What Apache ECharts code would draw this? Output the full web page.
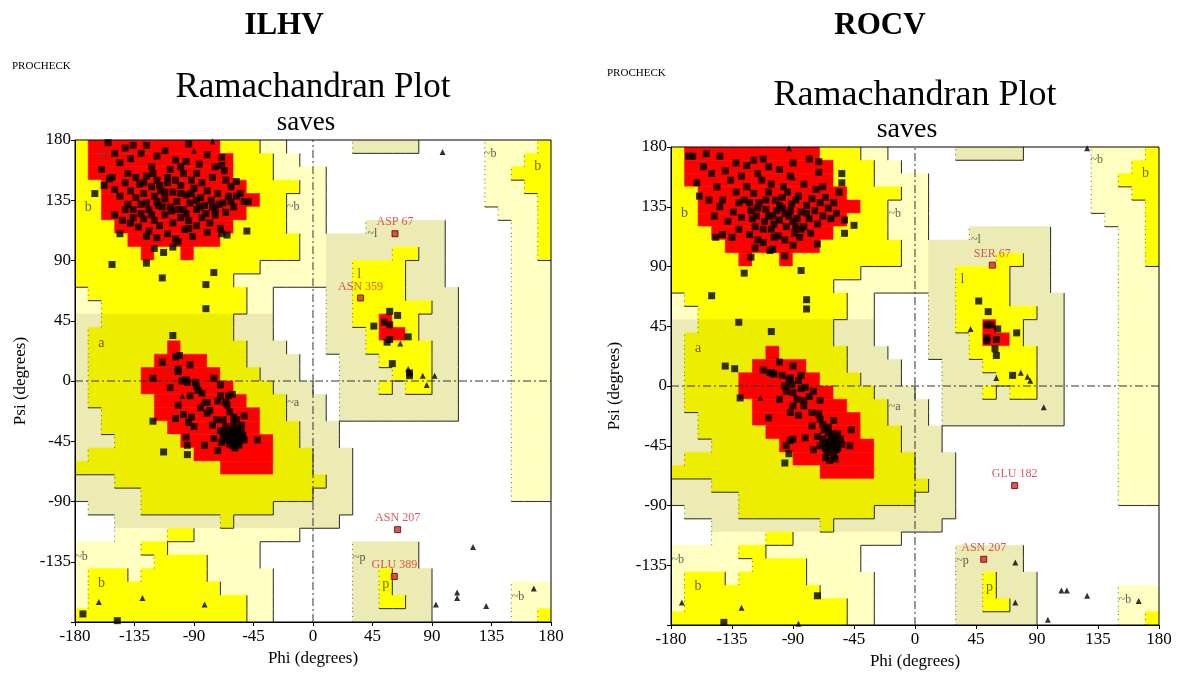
<!DOCTYPE html>
<html><head><meta charset="utf-8">
<script src="https://cdn.jsdelivr.net/npm/echarts/dist/echarts.min.js"></script>
<style>html,body{margin:0;padding:0;background:#fff}#c{width:1184px;height:675px}</style>
</head><body><div id="c"></div>
<script>
// PROCHECK region map, 10-degree cells, rows from psi 170..180 (top) down to psi -180..-170.
// Run-length coded: '.' outside, 'g' generous, 'y' allowed, 'r' most favoured; phi from -180 to 180.
const regionRows = [
"y1 r10 y3 g2 .5 g5 .5 g4 y1",
"y1 r11 y3 g2 .14 g3 y2",
"y1 r11 y3 g4 .12 g2 y3",
"y2 r11 y4 g2 .12 g3 y2",
"y2 r12 y2 g3 .12 g4 y1",
"y2 r11 y3 g3 .13 g3 y1",
"y3 r9 y4 g3 .3 g6 .5 g2 y1",
"y4 r7 y6 g11 .5 g2 y1",
"y5 r1 y2 r1 y8 g7 y2 g2 .5 g2 y1",
"y14 g7 y4 g3 .5 g3",
"y12 g9 y4 g3 .5 g3",
"g1 y12 g2 .4 g2 y4 g4 .4 g3",
"g2 y11 g2 .4 g2 y6 g2 .4 g3",
"g2 y10 g3 .4 g2 y2 r1 y2 g3 .4 g3",
"g1 y11 g3 .4 g3 y1 r2 y1 g3 .4 g3",
"g1 y6 r1 y5 g3 .3 g3 y5 g2 .4 g3",
"g1 y5 r4 y3 g4 .3 g3 y4 g2 .4 g3",
"g1 y4 r6 y3 g3 .3 g4 y3 g2 .4 g3",
"g1 y4 r7 y3 g3 .2 g3 y1 g1 y2 g2 .4 g3",
"g1 y5 r7 y3 g3 .1 g9 .4 g3",
"g2 y4 r8 y2 g3 .1 g9 .4 g3",
"g2 y5 r7 y3 g3 .13 g3",
"g3 y5 r7 y2 g3 .13 g3",
"g1 y8 r6 y3 g3 .12 g3",
"y11 r4 y3 g3 .12 g3",
"g3 y16 g2 .12 g3",
"g5 y13 g3 .12 g3",
".1 g4 y10 g6 .15",
".3 g8 y1 g8 .16",
".3 g4 y2 g8 .19",
"g5 y2 g7 .7 g5 .10",
"g6 y4 g4 .7 g5 .10",
"g1 y3 g1 y5 g5 .6 g2 y1 g3 .9",
"g1 y10 g4 .6 g2 y1 g3 .6 g3",
"g1 y12 g2 .6 g2 y2 g2 .6 g3",
"y13 g2 .6 g6 .6 g2 y1"
];

const axisTicks = [-180, -135, -90, -45, 0, 45, 90, 135, 180];
const plotNames = ['ILHV', 'ROCV'];

const regionLabels = [
 ['B',-158,168],['b',-170,130],['~b',-15,130],['A',-109,8],['a',-160,28],['~a',-15,-16],
 ['~b',-175,-131],['b',-160,-151],['~l',45,110],['l',35,80],['~b',134,170],['b',170,160],
 ['~p',35,-132],['p',55,-152],['~b',155,-161]
];

// ILHV
const ilhvSquares = [
 [-155,178],[-142,174],[-136,176],[-126,176],[-94,177],[-80,169],[-69,167],[-69,161],[-67,157],[-160,158],[-154,151],[-138,166],[-130,170],[-118,168],[-112,172],[-104,165],[-100,160],[-96,164],[-108,158],[-122,160],[-146,163],[-150,170],[-86,162],[-88,155],[-74,160],[-76,152],[-66,150],[-58,149],[-62,145],
 [-165,140],[-158,146],[-150,143],[-146,138],[-142,148],[-138,142],[-134,137],[-131,147],[-128,140],[-126,133],[-122,145],[-120,138],[-117,131],[-115,142],[-112,136],[-110,148],[-108,130],[-106,141],[-103,134],[-100,146],[-98,128],[-96,139],[-93,133],[-90,144],[-88,128],[-85,137],[-82,131],[-80,142],[-77,135],[-74,128],[-72,140],[-68,133],[-64,138],[-60,130],[-55,140],[-52,134],[-49,134],[-140,132],[-136,128],[-130,125],[-124,128],
 [-146,110],[-150,124],[-144,120],[-138,118],[-132,115],[-128,121],[-124,112],[-120,120],[-116,116],[-112,124],[-110,110],[-106,118],[-104,106],[-100,122],[-97,113],[-94,120],[-91,108],[-88,116],[-84,122],[-80,111],[-78,118],[-74,124],[-70,114],[-69,110],[-65,109],[-50,112],[-102,104],[-118,107],[-126,108],
 [-118,150],[-110,152],[-126,153],[-92,150],[-84,148],[-100,140],[-107,127],[-114,130],[-122,124],[-96,125],[-88,135],[-130,132],[-140,155],[-152,152],
 [-134,152],[-128,148],[-121,155],[-116,146],[-104,150],[-98,155],[-92,140],[-86,130],[-81,125],[-76,130],[-71,132],[-66,126],[-62,134],[-58,138],[-142,128],[-136,122],[-118,134],[-112,141],[-102,128],[-94,114],
 [-152,87],[-126,88],[-120,99],[-113,96],[-106,100],[-114,77],[-75,81],[-81,72],[-81,54],[-106,34],
 [-114,14],[-104,18],[-101,19],[-93,12],[-102,9],[-121,2],[-96,1],[-75,2],[-102,7],[-99,0],[-95,-1],[-89,-1],[-70,-3],[-93,-11],[-87,-7],[-84,-9],[-80,-16],[-78,-22],[-102,-18],[-104,-28],[-98,-25],[-92,-27],[-90,-34],[-94,-31],[-96,-42],[-95,-48],[-95,-55],[-113,-53],[-121,-30],[-82,-48],[-75,-43],[-72,-52],[-73,-29],[-68,-29],[-66,-16],[-65,-18],[-72,-15],[-70,-11],[-64,-11],[-61,-10],[-63,-23],[-60,-27],[-58,-29],[-52,-26],[-54,-33],[-42,-44],[-59,-50],
 [-61,-36],[-59,-38],[-57,-40],[-55,-42],[-60,-44],[-58,-46],[-56,-48],[-62,-41],[-64,-39],[-66,-44],[-68,-42],[-69,-46],[-65,-40],[-63,-47],[-54,-38],[-52,-44],[-57,-35],[-60,-32],[-66,-34],[-70,-37],[-76,-33],[-80,-24],[-85,-20],[-88,-4],[-108,-5],
 [-62,-44],[-58,-42],[-60,-38],[-56,-45],[-64,-42],[-61,-48],[-67,-38],[-53,-41],
 [-174,-174],[-148,-179],
 [58,52],[64,49],[54,44],[58,42],[46,41],[72,33],[58,31],[56,29],[60,13],[73,6],[73,4]
];
const ilhvTriangles = [
 [-76,179],[-90,172],[-99,-11],[-83,-15],[-162,-165],[-129,-162],[-82,-167],
 [98,171],[66,28],[72,9],[83,4],[92,4],[86,-3],[121,-124],[109,-158],[109,-162],[93,-167],[131,-168],[167,-155]
];
const ilhvOutliers = [[62,110,'ASP 67'],[36,62,'ASN 359'],[64,-111,'ASN 207'],[61.5,-146,'GLU 389']];

// ROCV
const rocvSquares = [
 [-167,173],[-164,173],[-154,175],[-144,173],[-119,170],[-112,171],[-90,168],[-78,171],[-71,169],[-71,161],[-54,160],[-54,153],[-161,153],[-159,143],[-52,125],[-45,121],[-52,115],[-147,112],[-142,114],[-135,112],[-121,97],[-107,102],[-105,103],[-72,107],[-126,85],[-84,87],[-150,68],[-80,65],[-80,58],[-130,48],[-106,41],[-140,15],[-133,13],
 [-150,160],[-146,150],[-140,162],[-136,155],[-132,146],[-128,158],[-126,140],[-124,150],[-121,132],[-119,145],[-117,128],[-115,138],[-113,155],[-111,124],[-110,133],[-108,146],[-106,118],[-105,128],[-103,140],[-101,113],[-100,125],[-98,134],[-97,150],[-95,120],[-93,128],[-91,137],[-89,115],[-87,126],[-86,143],[-84,131],[-82,120],[-80,136],[-78,126],[-76,141],[-74,132],[-72,122],[-70,138],[-68,128],[-66,142],[-64,134],[-62,126],[-60,138],[-58,130],[-56,146],[-144,135],[-148,128],[-138,124],[-134,131],[-130,118],[-128,127],[-122,114],[-116,110],[-112,108],[-96,110],[-90,106],[-85,112],[-77,115],[-73,148],[-68,150],[-82,152],[-92,158],[-100,163],[-108,165],[-116,160],[-124,166],[-132,168],[-156,165],[-152,140],[-142,140],[-118,120],[-102,132],[-88,140],[-94,146],[-110,140],[-122,138],[-106,152],[-130,138],[-96,98],[-118,104],
 [-112,118],[-104,122],[-96,130],[-90,124],[-84,118],[-108,128],[-100,136],[-92,132],[-80,130],[-116,134],[-120,126],[-98,142],[-88,120],[-104,112],
 [-106,10],[-100,18],[-90,15],[-92,6],[-129,-9],[-107,10],[-104,9],[-96,0],[-95,-4],[-93,5],[-91,1],[-84,8],[-90,-5],[-87,-10],[-81,-1],[-75,-4],[-82,-11],[-82,-15],[-90,-15],[-70,-11],[-71,-21],[-70,-25],[-68,-29],[-60,-26],[-64,-31],[-81,-39],[-90,-40],[-92,-41],[-95,-45],[-93,-51],[-96,-58],[-75,-48],[-66,-54],[-47,-33],[-48,-45],[-108,-24],
 [-68,-40],[-66,-43],[-64,-45],[-62,-38],[-60,-41],[-58,-44],[-62,-48],[-65,-50],[-60,-52],[-57,-47],[-55,-40],[-57,-36],[-64,-35],[-67,-33],[-70,-45],[-72,-38],[-59,-55],[-63,-56],[-54,-44],[-76,-20],[-78,-8],[-84,-2],[-86,4],[-98,8],[-100,-10],[-112,12],[-86,-22],[-92,-20],[-76,-30],
 [-61,-44],[-59,-40],[-63,-42],[-58,-48],[-66,-47],[-61,-36],
 [-72,-158],[-141,-178],
 [47,64],[54,56],[53,46],[56,46],[61,43],[53,36],[53,34],[60,35],[75,40],[59,28],[60,23],[72,8]
];
const rocvTriangles = [
 [-93,179],[-90,157],[-114,-9],[-104,11],[-172,-163],[-128,-167],[-86,-179],
 [127,179],[41,43],[60,6],[78,10],[83,7],[85,4],[95,-16],[74,-133],[74,-163],[98,-176],[108,-154],[112,-154],[127,-158],[165,-162]
];
const rocvOutliers = [[57,91,'SER 67'],[73.5,-75,'GLU 182'],[50.7,-130.5,'ASN 207']];

const COL = {core:'#ff0000', allowed:'#ffff00', allowedA:'#eded00', gen:'#ffffc2', genA:'#ecebb3'};
const SERIF = '"Liberation Serif","DejaVu Serif",serif';

const grid = rowsRLE => rowsRLE.map(r => r.split(' ').map(t => t[0].repeat(parseInt(t.slice(1)))).join(''));
const cells = grid(regionRows);
const lvl = ch => ch === 'r' ? 3 : ch === 'y' ? 2 : ch === 'g' ? 1 : 0;
function cellColor(ch, phi, psi) {
  const band = phi < 10 && psi >= -110 && psi < 50;
  if (ch === 'r') return COL.core;
  if (ch === 'y') return band ? COL.allowedA : COL.allowed;
  if (ch === 'g') return (band || (phi >= 10 && phi < 120)) ? COL.genA : COL.gen;
  return null;
}
const palette = [];
const rects = [];
cells.forEach((row, j) => {
  const psi0 = 170 - 10 * j;
  let k = 0;
  while (k < 36) {
    const c = cellColor(row[k], -180 + 10 * k, psi0);
    let e = k + 1;
    while (e < 36 && cellColor(row[e], -180 + 10 * e, psi0) === c) e++;
    if (c) {
      let idx = palette.indexOf(c); if (idx < 0) { palette.push(c); idx = palette.length - 1; }
      rects.push([-180 + 10 * k, -180 + 10 * e, psi0, psi0 + 10, idx]);
    }
    k = e;
  }
});
const edges = [];
cells.forEach((row, j) => {
  const psi0 = 170 - 10 * j;
  for (let k = 1; k < 36; k++) {
    const a = lvl(row[k - 1]), b = lvl(row[k]);
    const phi = -180 + 10 * k;
    if (a > b && a < 3) edges.push([phi, psi0, phi, psi0 + 10, 0]);
    else if (b > a && b < 3) edges.push([phi, psi0, phi, psi0 + 10, 1]);
  }
  if (j < 35) {
    const below = cells[j + 1];
    for (let k = 0; k < 36; k++) {
      const a = lvl(row[k]), b = lvl(below[k]);
      if (a > b && a < 3) edges.push([-180 + 10 * k, psi0, -170 + 10 * k, psi0, 0]);
    }
  }
});
const zeroLines = [[-180, 0, 180, 0], [0, -180, 0, 180]];
const frame = [[-180, 180, -180, 180]];

const grids = [
  {left: 75, top: 140, width: 476, height: 482, containLabel: false},
  {left: 671, top: 147, width: 488, height: 478, containLabel: false}
];

function axisPair(i) {
  const x = {type: 'value', gridIndex: i, min: -180, max: 180, interval: 45, z: 10,
    name: 'Phi (degrees)', nameLocation: 'middle', nameGap: 27,
    nameTextStyle: {fontFamily: SERIF, fontSize: 17, color: '#000'},
    axisLine: {show: true, onZero: false, lineStyle: {color: '#000', width: 1}},
    axisTick: {show: true, length: 4, lineStyle: {color: '#000'}},
    axisLabel: {fontFamily: SERIF, fontSize: 17, color: '#000', margin: 6, showMinLabel: true, showMaxLabel: true},
    splitLine: {show: false}};
  const y = {type: 'value', gridIndex: i, min: -180, max: 180, interval: 45, z: 10,
    name: 'Psi (degrees)', nameLocation: 'middle', nameGap: i === 0 ? 46 : 48, nameRotate: 90,
    nameTextStyle: {fontFamily: SERIF, fontSize: 17, color: '#000'},
    axisLine: {show: true, onZero: false, lineStyle: {color: '#000', width: 1}},
    axisTick: {show: true, length: 4, lineStyle: {color: '#000'}},
    axisLabel: {fontFamily: SERIF, fontSize: 17, color: '#000', margin: 4,
      formatter: v => v === -180 ? '' : String(v)},
    splitLine: {show: false}};
  return [x, y];
}

function plotSeries(i, squares, triangles, outliers) {
  const common = {xAxisIndex: i, yAxisIndex: i, coordinateSystem: 'cartesian2d'};
  return [
    Object.assign({type: 'custom', z: 1, silent: true, clip: true, data: rects, encode: {x: [0, 1], y: [2, 3]},
      renderItem: (p, api) => {
        const a = api.coord([api.value(0), api.value(3)]);
        const b = api.coord([api.value(1), api.value(2)]);
        const c = palette[api.value(4)];
        return {type: 'rect', shape: {x: a[0], y: a[1], width: b[0] - a[0], height: b[1] - a[1]},
          style: {fill: c, stroke: c, lineWidth: 0.6}};
      }}, common),
    Object.assign({type: 'custom', z: 2, silent: true, clip: true, data: edges, encode: {x: [0, 2], y: [1, 3]},
      renderItem: (p, api) => {
        const a = api.coord([api.value(0), api.value(1)]);
        const b = api.coord([api.value(2), api.value(3)]);
        const dotted = api.value(4) === 1;
        return {type: 'line', shape: {x1: a[0], y1: a[1], x2: b[0], y2: b[1]},
          style: dotted ? {stroke: '#666', lineWidth: 1, lineDash: [1, 4]} : {stroke: '#3a3a3a', lineWidth: 1.1}};
      }}, common),
    Object.assign({type: 'custom', z: 3, silent: true, clip: true, data: zeroLines, encode: {x: [0, 2], y: [1, 3]},
      renderItem: (p, api) => {
        const a = api.coord([api.value(0), api.value(1)]);
        const b = api.coord([api.value(2), api.value(3)]);
        return {type: 'line', shape: {x1: a[0], y1: a[1], x2: b[0], y2: b[1]},
          style: {stroke: '#333', lineWidth: 1, lineDash: [8, 3, 2, 3]}};
      }}, common),
    Object.assign({type: 'scatter', z: 5, clip: false, symbol: 'rect', symbolSize: 7,
      itemStyle: {color: '#000'}, data: squares}, common),
    Object.assign({type: 'scatter', z: 5, clip: false, symbol: 'triangle', symbolSize: 6,
      itemStyle: {color: '#000'}, data: triangles}, common),
    Object.assign({type: 'scatter', z: 6, clip: false, symbol: 'rect', symbolSize: 6,
      itemStyle: {color: '#d42a2a', borderColor: '#5a0000', borderWidth: 1},
      label: {show: true, position: 'top', distance: 2, formatter: p => p.name,
        fontFamily: SERIF, fontSize: 12, color: '#d03232'},
      data: outliers.map(o => ({value: [o[0], o[1]], name: o[2]}))}, common),
    Object.assign({type: 'scatter', z: 4, clip: false, symbolSize: 0, silent: true,
      label: {show: true, position: 'inside', formatter: p => p.name, fontFamily: SERIF,
        fontSize: 14, color: '#4a3a00'},
      data: regionLabels.map(l => ({value: [l[1], l[2]], name: l[0],
        label: /^[AB]$/.test(l[0]) ? {color: '#9a2a20', fontSize: 15} : (l[0][0] === '~' ? {fontSize: 12, color: '#333'} : {})}))}, common),
    Object.assign({type: 'custom', z: 8, silent: true, clip: false, data: frame, encode: {x: [0, 1], y: [2, 3]},
      renderItem: (p, api) => {
        const a = api.coord([api.value(0), api.value(3)]);
        const b = api.coord([api.value(1), api.value(2)]);
        return {type: 'rect', shape: {x: a[0], y: a[1], width: b[0] - a[0], height: b[1] - a[1]},
          style: {fill: 'none', stroke: '#000', lineWidth: 1}};
      }}, common)
  ];
}

const ax0 = axisPair(0), ax1 = axisPair(1);
function txt(x, y, text, font) {
  return {type: 'text', x: x, y: y, silent: true,
    style: {text: text, font: font, fill: '#000', align: 'center', verticalAlign: 'middle',
      textAlign: 'center', textVerticalAlign: 'middle'}};
}
function txtL(x, y, text, font) {
  return {type: 'text', x: x, y: y, silent: true,
    style: {text: text, font: font, fill: '#000', align: 'left', verticalAlign: 'middle',
      textAlign: 'left', textVerticalAlign: 'middle'}};
}

const chart = echarts.init(document.getElementById('c'), null, {renderer: 'canvas'});
chart.setOption({
  backgroundColor: '#fff',
  animation: false,
  grid: grids,
  xAxis: [ax0[0], ax1[0]],
  yAxis: [ax0[1], ax1[1]],
  graphic: [
    txt(284, 26, plotNames[0], 'bold 31px ' + SERIF),
    txt(880, 26, plotNames[1], 'bold 31px ' + SERIF),
    txtL(12, 66, 'PROCHECK', '11px ' + SERIF),
    txtL(607, 73, 'PROCHECK', '11px ' + SERIF),
    txt(313, 88, 'Ramachandran Plot', '35px ' + SERIF),
    txt(915, 96, 'Ramachandran Plot', '36px ' + SERIF),
    txt(306, 123, 'saves', '27px ' + SERIF),
    txt(907, 130, 'saves', '28px ' + SERIF)
  ],
  series: [].concat(
    plotSeries(0, ilhvSquares, ilhvTriangles, ilhvOutliers),
    plotSeries(1, rocvSquares, rocvTriangles, rocvOutliers)
  )
});
</script>
</body></html>
